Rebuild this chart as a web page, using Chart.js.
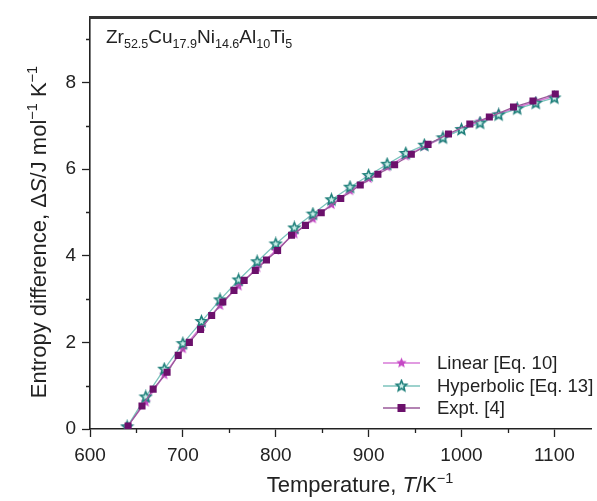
<!DOCTYPE html>
<html>
<head>
<meta charset="utf-8">
<script src="https://cdn.jsdelivr.net/npm/chart.js@4.4.1/dist/chart.umd.min.js"></script>
<style>
  html, body { margin: 0; padding: 0; background: #fff; }
  #wrap { position: relative; width: 597px; height: 501px; }
</style>
</head>
<body>
<div id="wrap"><canvas id="myChart" width="597" height="501"></canvas></div>
<script>
// model temperatures (K) for the two fitted curves
var modelT = [640, 660, 680, 700, 720, 740, 760, 780, 800, 820, 840, 860,
              880, 900, 920, 940, 960, 980, 1000, 1020, 1040, 1060, 1080, 1100];
var linearS = [0.05, 0.62, 1.25, 1.85, 2.37, 2.85, 3.30, 3.72, 4.12, 4.50, 4.85, 5.18,
               5.50, 5.78, 6.05, 6.30, 6.52, 6.72, 6.92, 7.10, 7.27, 7.42, 7.56, 7.68];
var hyperS = [0.05, 0.74, 1.38, 1.97, 2.48, 2.98, 3.44, 3.86, 4.27, 4.64, 4.96, 5.29,
              5.58, 5.85, 6.11, 6.36, 6.55, 6.72, 6.91, 7.06, 7.25, 7.39, 7.52, 7.64];
// experimental points
var exptT = [641, 656, 668, 683, 695, 707, 719, 731, 743, 755, 766, 778, 790, 802,
             817, 832, 849, 870, 891, 910, 928, 946, 964, 986, 1009, 1030, 1056, 1077, 1101];
var exptS = [0.07, 0.53, 0.92, 1.31, 1.70, 2.00, 2.30, 2.62, 2.93, 3.20, 3.43, 3.66, 3.90, 4.12,
             4.47, 4.70, 4.99, 5.32, 5.63, 5.88, 6.10, 6.34, 6.57, 6.81, 7.04, 7.20, 7.43, 7.57, 7.73];

var xTicks = [600, 700, 800, 900, 1000, 1100];
var xMinor = [650, 750, 850, 950, 1050];
var yTicks = [0, 2, 4, 6, 8];
var yMinor = [1, 3, 5, 7, 9];

var seriesNames = ["Linear [Eq. 10]", "Hyperbolic [Eq. 13]", "Expt. [4]"];

var FONT = '"Liberation Sans", Arial, Helvetica, sans-serif';
var INK = '#222';

function pairs(xs, ys) {
    return xs.map(function (x, i) { return { x: x, y: ys[i] }; });
}

// five pointed star drawn into a small canvas, used as point style
function makeStar(r, fill, stroke, lw) {
    var c = document.createElement('canvas');
    var s = Math.ceil(r * 2 + 4);
    c.width = s; c.height = s;
    var g = c.getContext('2d');
    g.beginPath();
    for (var i = 0; i < 10; i++) {
        var rr = i % 2 === 0 ? r : r * 0.45;
        var a = -Math.PI / 2 + i * Math.PI / 5;
        var px = s / 2 + rr * Math.cos(a), py = s / 2 + rr * Math.sin(a);
        if (i === 0) g.moveTo(px, py); else g.lineTo(px, py);
    }
    g.closePath();
    g.fillStyle = fill;
    g.fill();
    if (stroke) { g.lineWidth = lw; g.strokeStyle = stroke; g.stroke(); }
    return c;
}

var linStar = makeStar(5.5, '#c548c5', null, 0);
var hypStar = makeStar(5.5, '#c8eee8', '#1e7f7a', 1.6);

// text with sub/superscripts and italics: runs of {t, sub, sup, it}
function richWidth(ctx, runs, size) {
    var w = 0;
    runs.forEach(function (r) {
        var fs = (r.sub || r.sup) ? size * 0.66 : size;
        ctx.font = (r.it ? 'italic ' : '') + fs + 'px ' + FONT;
        w += ctx.measureText(r.t).width;
    });
    return w;
}
function drawRich(ctx, runs, x, y, size) {
    var cx = x;
    ctx.textBaseline = 'alphabetic';
    ctx.textAlign = 'left';
    runs.forEach(function (r) {
        var fs = (r.sub || r.sup) ? size * 0.66 : size;
        var dy = r.sub ? size * 0.28 : (r.sup ? -size * 0.42 : 0);
        ctx.font = (r.it ? 'italic ' : '') + fs + 'px ' + FONT;
        ctx.fillText(r.t, cx, y + dy);
        cx += ctx.measureText(r.t).width;
    });
}

var alloyLabel = [{t: 'Zr'}, {t: '52.5', sub: true}, {t: 'Cu'}, {t: '17.9', sub: true},
    {t: 'Ni'}, {t: '14.6', sub: true}, {t: 'Al'}, {t: '10', sub: true}, {t: 'Ti'}, {t: '5', sub: true}];
var xTitle = [{t: 'Temperature, '}, {t: 'T', it: true}, {t: '/K'}, {t: '\u22121', sup: true}];
var yTitle = [{t: 'Entropy difference, \u0394'}, {t: 'S', it: true}, {t: '/J mol'},
    {t: '\u22121', sup: true}, {t: ' K'}, {t: '\u22121', sup: true}];

var decor = {
    id: 'decor',
    afterDraw: function (chart) {
        var ctx = chart.ctx, a = chart.chartArea;
        var xs = chart.scales.x, ys = chart.scales.y;
        ctx.save();
        // top frame
        ctx.strokeStyle = '#333';
        ctx.lineWidth = 3;
        ctx.beginPath();
        ctx.moveTo(a.left - 1, a.top);
        ctx.lineTo(chart.width, a.top);
        ctx.stroke();
        // minor ticks
        ctx.lineWidth = 1.3;
        ctx.strokeStyle = INK;
        ctx.beginPath();
        xMinor.forEach(function (v) {
            var px = Math.round(xs.getPixelForValue(v)) + 0.5;
            ctx.moveTo(px, a.bottom); ctx.lineTo(px, a.bottom + 4);
        });
        yMinor.forEach(function (v) {
            var py = Math.round(ys.getPixelForValue(v)) + 0.5;
            ctx.moveTo(a.left, py); ctx.lineTo(a.left - 4, py);
        });
        ctx.stroke();

        ctx.fillStyle = INK;
        // alloy label
        drawRich(ctx, alloyLabel, 106, 43, 19);
        // x title
        var w = richWidth(ctx, xTitle, 22);
        drawRich(ctx, xTitle, 360 - w / 2, 492, 22);
        // y title (rotated)
        w = richWidth(ctx, yTitle, 22);
        ctx.translate(46, 232);
        ctx.rotate(-Math.PI / 2);
        drawRich(ctx, yTitle, -w / 2, 0, 22);
        ctx.restore();

        // legend
        ctx.save();
        var lx0 = 383, lx1 = 420, tx = 437;
        var rows = [363, 386, 408];
        chart.data.datasets.forEach(function (ds, i) {
            var y = rows[i];
            ctx.strokeStyle = ds.borderColor;
            ctx.lineWidth = ds.borderWidth;
            ctx.beginPath();
            ctx.moveTo(lx0, y); ctx.lineTo(lx1, y);
            ctx.stroke();
            var mx = (lx0 + lx1) / 2;
            if (ds.pointStyle === 'rect') {
                ctx.fillStyle = ds.pointBackgroundColor;
                ctx.fillRect(mx - 4, y - 4, 8, 8);
            } else {
                ctx.drawImage(ds.pointStyle, mx - ds.pointStyle.width / 2, y - ds.pointStyle.height / 2);
            }
            ctx.fillStyle = INK;
            ctx.font = '18.5px ' + FONT;
            ctx.textBaseline = 'middle';
            ctx.textAlign = 'left';
            ctx.fillText(seriesNames[i], tx, y + 1);
        });
        ctx.restore();
    }
};

var ctx = document.getElementById('myChart').getContext('2d');
var chart = new Chart(ctx, {
    type: 'scatter',
    data: {
        datasets: [
            {
                label: seriesNames[0],
                data: pairs(modelT, linearS),
                showLine: true,
                borderColor: '#d77ad7',
                borderWidth: 1.5,
                pointStyle: linStar,
                pointBackgroundColor: '#c548c5',
                order: 2
            },
            {
                label: seriesNames[1],
                data: pairs(modelT, hyperS),
                showLine: true,
                borderColor: '#7cc3bd',
                borderWidth: 1.3,
                pointStyle: hypStar,
                pointBackgroundColor: '#c8eee8',
                order: 1
            },
            {
                label: seriesNames[2],
                data: pairs(exptT, exptS),
                showLine: true,
                borderColor: '#9a5a9a',
                borderWidth: 1.3,
                pointStyle: 'rect',
                pointRadius: 5,
                pointBackgroundColor: '#6b106b',
                pointBorderColor: '#6b106b',
                pointBorderWidth: 0,
                order: 0
            }
        ]
    },
    options: {
        responsive: false,
        animation: false,
        layout: { padding: { top: 14, right: 0, left: 0, bottom: 0 } },
        plugins: {
            legend: { display: false },
            tooltip: { enabled: false }
        },
        scales: {
            x: {
                type: 'linear',
                min: 600,
                max: 1140,
                afterFit: function (s) { s.height = 72; },
                afterBuildTicks: function (s) { s.ticks = xTicks.map(function (v) { return { value: v }; }); },
                ticks: {
                    color: INK, font: { size: 19, family: FONT }, padding: 7, maxRotation: 0,
                    callback: function (v) { return String(v); }
                },
                grid: { drawOnChartArea: false, drawTicks: true, tickLength: 8, tickColor: INK, tickWidth: 1.3 },
                border: { color: INK, width: 1.6 }
            },
            y: {
                min: 0,
                max: 9.5,
                afterFit: function (s) { s.width = 90; },
                afterBuildTicks: function (s) { s.ticks = yTicks.map(function (v) { return { value: v }; }); },
                ticks: {
                    color: INK, font: { size: 19, family: FONT }, padding: 6,
                    callback: function (v) { return String(v); }
                },
                grid: { drawOnChartArea: false, drawTicks: true, tickLength: 8, tickColor: INK, tickWidth: 1.3 },
                border: { color: INK, width: 1.6 }
            }
        }
    },
    plugins: [decor]
});
</script>
</body>
</html>
